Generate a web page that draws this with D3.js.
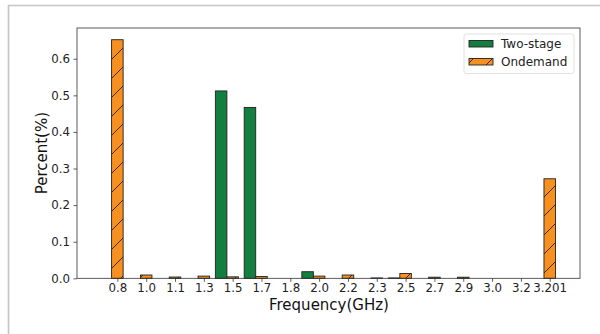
<!DOCTYPE html>
<html>
<head>
<meta charset="utf-8">
<script src="https://cdn.jsdelivr.net/npm/d3@7"></script>
<style>
  html, body { margin: 0; padding: 0; background: #fff; }
  svg { display: block; font-family: "DejaVu Sans", sans-serif; }
</style>
</head>
<body>
<svg id="chart" width="600" height="334"></svg>
<script>
// Frequency bins (GHz) and share of time spent in each, per governor
const frequencies = ["0.8", "1.0", "1.1", "1.3", "1.5", "1.7", "1.8", "2.0", "2.2", "2.3", "2.5", "2.7", "2.9", "3.0", "3.2", "3.201"];
const twoStage = [0, 0, 0, 0, 0.512, 0.467, 0, 0.018, 0, 0, 0.001, 0, 0, 0, 0, 0];
const ondemand = [0.652, 0.009, 0.0035, 0.006, 0.004, 0.005, 0, 0.006, 0.009, 0.001, 0.013, 0.003, 0.003, 0, 0, 0.272];
const yTicks = [0, 0.1, 0.2, 0.3, 0.4, 0.5, 0.6];
const seriesNames = ["Two-stage", "Ondemand"];

const svg = d3.select("#chart");
const green = "#117f3f", orange = "#f7901f";

// outer figure frame
svg.append("path")
  .attr("d", "M8.5,334 L8.5,5.5 L600,5.5")
  .attr("fill", "none").attr("stroke", "#c4c4c4").attr("stroke-width", 1.6);

// hatch pattern for the Ondemand bars
const defs = svg.append("defs");
const pat = defs.append("pattern")
  .attr("id", "hatch").attr("patternUnits", "userSpaceOnUse")
  .attr("width", 19).attr("height", 19);
pat.append("rect").attr("width", 19).attr("height", 19).attr("fill", orange);
pat.append("path").attr("d", "M-1,20 L20,-1").attr("stroke", "#3a2a1a").attr("stroke-width", 1);

const plotL = 77, plotR = 580, plotT = 28, plotB = 278.3;
const x = d3.scaleLinear().domain([-1.4, 16.05]).range([plotL, plotR]);
const y = d3.scaleLinear().domain([0, 0.684]).range([plotB, plotT]);
const bw = 0.4;

// bars
const g = svg.append("g");
g.selectAll("rect.two").data(twoStage.map((v, i) => ({v, i})).filter(d => d.v > 0))
  .enter().append("rect").attr("class", "two")
  .attr("x", d => x(d.i - 1.5 * bw)).attr("width", x(bw) - x(0))
  .attr("y", d => y(d.v)).attr("height", d => y(0) - y(d.v))
  .attr("fill", green).attr("stroke", "#222").attr("stroke-width", 0.9);
g.selectAll("rect.ond").data(ondemand.map((v, i) => ({v, i})).filter(d => d.v > 0))
  .enter().append("rect").attr("class", "ond")
  .attr("x", d => x(d.i - bw / 2)).attr("width", x(bw) - x(0))
  .attr("y", d => y(d.v)).attr("height", d => y(0) - y(d.v))
  .attr("fill", "url(#hatch)").attr("stroke", "#222").attr("stroke-width", 0.9);

// axes
const xAxis = d3.axisBottom(x).tickValues(d3.range(frequencies.length))
  .tickFormat(i => frequencies[i]).tickSize(3.5).tickPadding(2.3);
const yAxis = d3.axisLeft(y).tickValues(yTicks).tickFormat(d3.format(".1f"))
  .tickSize(3.5).tickPadding(3.5);

const gx = svg.append("g").attr("transform", `translate(0,${plotB})`).call(xAxis);
const gy = svg.append("g").attr("transform", `translate(${plotL},0)`).call(yAxis);
[gx, gy].forEach(a => {
  a.select(".domain").remove();
  a.selectAll("line").attr("stroke", "#333").attr("stroke-width", 0.8);
  a.selectAll("text").attr("font-size", 11.8).attr("fill", "#222")
    .attr("font-family", "DejaVu Sans");
});

// spines
svg.append("rect").attr("x", plotL).attr("y", plotT)
  .attr("width", plotR - plotL).attr("height", plotB - plotT)
  .attr("fill", "none").attr("stroke", "#333").attr("stroke-width", 0.8);

// axis titles
svg.append("text").attr("x", 329).attr("y", 309.5)
  .attr("text-anchor", "middle").attr("font-size", 15).attr("fill", "#111")
  .text("Frequency(GHz)");
svg.append("text").attr("transform", `translate(47,${(plotT + plotB) / 2}) rotate(-90)`)
  .attr("text-anchor", "middle").attr("font-size", 15).attr("fill", "#111")
  .text("Percent(%)");

// legend
const lg = svg.append("g");
lg.append("rect").attr("x", 464).attr("y", 34).attr("width", 110).attr("height", 39.5)
  .attr("rx", 2.5).attr("fill", "#fff").attr("fill-opacity", 0.8)
  .attr("stroke", "#d8d8d8").attr("stroke-width", 0.8);
seriesNames.forEach((name, k) => {
  const yy = 40.5 + k * 18;
  lg.append("rect").attr("x", 469).attr("y", yy).attr("width", 24).attr("height", 6.5)
    .attr("fill", k === 0 ? green : "url(#hatch)").attr("stroke", "#222").attr("stroke-width", 0.9);
  lg.append("text").attr("x", 501).attr("y", yy + 7).attr("font-size", 12).attr("fill", "#222")
    .text(name);
});
</script>
</body>
</html>
